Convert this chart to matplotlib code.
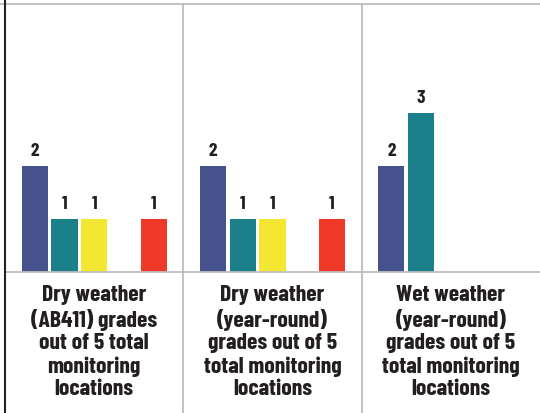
import matplotlib
matplotlib.use("Agg")
import matplotlib.pyplot as plt
from matplotlib.lines import Line2D

# Grade counts per monitoring category
categories = [
    "Dry weather\n(AB411) grades\nout of 5 total\nmonitoring\nlocations",
    "Dry weather\n(year-round)\ngrades out of 5\ntotal monitoring\nlocations",
    "Wet weather\n(year-round)\ngrades out of 5\ntotal monitoring\nlocations",
]
grade_slots = ["A", "B", "C", "D", "F"]
dry_ab411 = [2, 1, 1, 0, 1]
dry_year_round = [2, 1, 1, 0, 1]
wet_year_round = [2, 3, 0, 0, 0]
series = [dry_ab411, dry_year_round, wet_year_round]
grade_colors = ["#45528C", "#1B808A", "#F4E732", "#3A9A48", "#EE3A26"]

plt.rcParams["font.family"] = ["Barlow Condensed", "DejaVu Sans"]
text_color = "#231F20"
grid_color = "#BDBDC0"

W, H = 540, 414
fig = plt.figure(figsize=(W / 100, H / 100), dpi=100)
base_px, top_px, left_px = 272.5, 5, 5
ax = fig.add_axes([left_px / W, (H - base_px) / H, 1 - left_px / W, (base_px - top_px) / H])

group_span = 6
for g, values in enumerate(series):
    for j, v in enumerate(values):
        if v <= 0:
            continue
        x = g * group_span + j + 1
        ax.bar(x, v, width=0.88, color=grade_colors[j], linewidth=0, zorder=2)
        ax.annotate(str(v), (x, v), xytext=(0, 5), textcoords="offset points",
                    ha="center", va="bottom", fontsize=14, fontweight="bold",
                    color=text_color)

ax.set_xlim(0, group_span * len(series))
ax.set_ylim(0, (base_px - top_px) / 53.0)
ax.set_xticks([])
ax.set_yticks([])
for side in ("left", "right", "top"):
    ax.spines[side].set_visible(False)
ax.spines["bottom"].set_color(grid_color)
ax.spines["bottom"].set_linewidth(1.3)

# Frame lines that run through the label area
fig.add_artist(Line2D([0, 1], [(H - top_px) / H] * 2, color=grid_color, lw=1.3))
fig.add_artist(Line2D([left_px / W] * 2, [0, 1], color="#222222", lw=1.5))
for g in range(1, len(series)):
    xf = (left_px + g * group_span * (W - left_px) / (group_span * len(series))) / W
    fig.add_artist(Line2D([xf, xf], [0, (H - top_px) / H], color=grid_color, lw=1.3))

# Category captions under each group
for g, label in enumerate(categories):
    x = g * group_span + group_span / 2
    ax.text(x, -13 / (base_px - top_px), label, transform=ax.get_xaxis_transform(),
            ha="center", va="top", fontsize=17, fontweight="bold",
            color=text_color, linespacing=1.17)

fig.savefig("out.png", dpi=100)
